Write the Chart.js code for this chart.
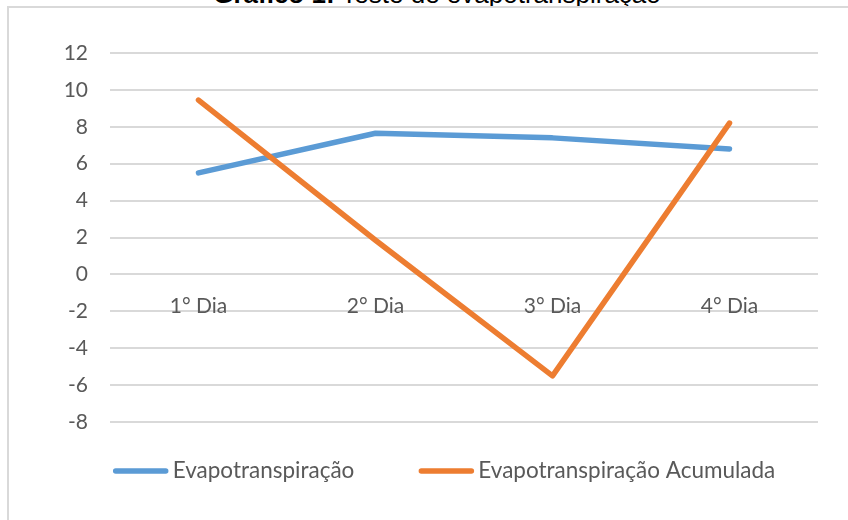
<!DOCTYPE html>
<html><head><meta charset="utf-8">
<script src="https://cdn.jsdelivr.net/npm/chart.js@4.4.0/dist/chart.umd.min.js"></script>
<style>
html,body{margin:0;padding:0;background:#fff;overflow:hidden;width:848px;height:520px;}
#frame{position:absolute;left:7px;top:6px;width:1000px;height:1000px;border:2px solid #d9d9d9;box-sizing:border-box;}
#title{position:absolute;left:0;top:-19px;width:874px;text-align:center;font:26px/26px "Liberation Sans",Arial,sans-serif;color:#000;white-space:nowrap;}
#wrap{position:absolute;left:0;top:0;width:848px;height:520px;}
</style></head><body>
<div id="title"><b>Gráfico 1:</b> Teste de evapotranspiração</div>
<div id="frame"></div>
<div id="wrap"><canvas id="c" width="848" height="520"></canvas></div>
<script>
const categories = ['1° Dia', '2° Dia', '3° Dia', '4° Dia'];
const evapotranspiracao = [5.5, 7.65, 7.4, 6.8];
const evapotranspiracaoAcumulada = [9.45, 1.85, -5.5, 8.2];
const seriesNames = ['Evapotranspiração', 'Evapotranspiração Acumulada'];
const yMin = -8, yMax = 12, yStep = 2;

const TEXT = '#595959';
const FONT = 'Lato';
const FS = 21;
const LEGEND_FS = 22.5;

const legendPlugin = {
  id: 'customLegend',
  afterDraw(chart) {
    const ctx = chart.ctx;
    const ds = chart.data.datasets;
    const sample = 56, gap = 4, itemGap = 64, cy = 471, centerX = 444;
    ctx.save();
    ctx.font = LEGEND_FS + 'px ' + FONT;
    const widths = ds.map(d => sample + gap + ctx.measureText(d.label).width);
    const total = widths.reduce((a, b) => a + b, 0) + itemGap * (ds.length - 1);
    let x = centerX - total / 2;
    ds.forEach((d, i) => {
      ctx.strokeStyle = d.borderColor;
      ctx.lineWidth = d.borderWidth;
      ctx.lineCap = 'round';
      ctx.beginPath();
      ctx.moveTo(x + 3, cy);
      ctx.lineTo(x + sample - 3, cy);
      ctx.stroke();
      ctx.fillStyle = TEXT;
      ctx.textBaseline = 'middle';
      ctx.textAlign = 'left';
      ctx.fillText(d.label, x + sample + gap, cy);
      x += widths[i] + itemGap;
    });
    ctx.restore();
  }
};

new Chart(document.getElementById('c'), {
  type: 'line',
  data: {
    labels: categories,
    datasets: [
      { label: seriesNames[0], data: evapotranspiracao, borderColor: '#5B9BD5', backgroundColor: '#5B9BD5',
        borderWidth: 5.5, pointRadius: 0, tension: 0, borderCapStyle: 'round', borderJoinStyle: 'round', fill: false, order: 1 },
      { label: seriesNames[1], data: evapotranspiracaoAcumulada, borderColor: '#ED7D31', backgroundColor: '#ED7D31',
        borderWidth: 5.5, pointRadius: 0, tension: 0, borderCapStyle: 'round', borderJoinStyle: 'round', fill: false, order: 0 }
    ]
  },
  options: {
    responsive: false,
    animation: false,
    devicePixelRatio: 1,
    layout: { padding: { left: 0, right: 30, top: 53, bottom: 98 } },
    plugins: { legend: { display: false }, tooltip: { enabled: false }, title: { display: false } },
    scales: {
      y: {
        min: yMin, max: yMax,
        ticks: { stepSize: yStep, padding: 22, color: TEXT, font: { family: FONT, size: FS } },
        grid: { color: '#d9d9d9', lineWidth: 2, drawTicks: false },
        border: { display: false },
        afterFit(s) { s.width = 110; }
      },
      x: {
        type: 'category',
        position: { y: 0 },
        offset: true,
        grid: { display: false, drawTicks: false },
        border: { display: false },
        ticks: { padding: 19, color: TEXT, font: { family: FONT, size: FS }, maxRotation: 0, autoSkip: false }
      }
    }
  },
  plugins: [legendPlugin]
});
</script>
</body></html>
